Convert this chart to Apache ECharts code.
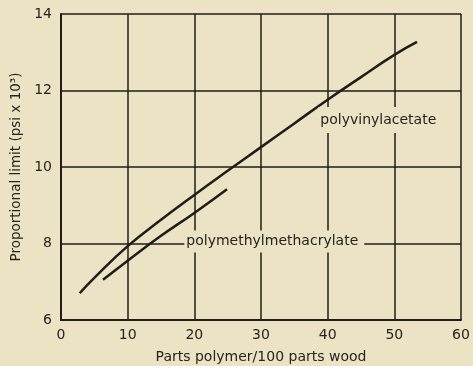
<!DOCTYPE html>
<html>
<head>
<meta charset="utf-8">
<script src="https://cdn.jsdelivr.net/npm/echarts@6/dist/echarts.min.js"></script>
<style>
  html, body { margin: 0; padding: 0; background: #ece3c4; }
  #main { width: 473px; height: 366px; }
</style>
</head>
<body>
<div id="main"></div>
<script>
  // polyvinylacetate curve [parts polymer, proportional limit]
  var pvaData = [[2.8, 6.7], [5, 7.1], [10, 7.93], [15, 8.62], [20, 9.27], [25, 9.9],
    [30, 10.52], [35, 11.14], [40, 11.76], [45, 12.35], [50, 12.93], [53.4, 13.27]];
  // polymethylmethacrylate curve
  var pmmaData = [[6.3, 7.05], [10, 7.55], [15, 8.2], [20, 8.8], [24.9, 9.42]];
  var xTicks = [0, 60, 10];
  var yTicks = [6, 14, 2];

  var bg = '#ece3c4';
  var ink = '#1f1d1a';
  var txt = '#26241f';
  var fam = 'DejaVu Sans, sans-serif';
  var myChart = echarts.init(document.getElementById('main'));

  var option = {
    backgroundColor: bg,
    animation: false,
    textStyle: { fontFamily: fam },
    grid: { left: 61, right: 12, top: 14, bottom: 46, outerBoundsMode: 'none', containLabel: false },
    xAxis: {
      type: 'value',
      min: xTicks[0], max: xTicks[1], interval: xTicks[2],
      name: 'Parts polymer/100 parts wood',
      nameLocation: 'middle', nameGap: 30,
      nameTextStyle: { color: txt, fontSize: 14, fontFamily: fam },
      axisLine: { show: true, lineStyle: { color: ink, width: 2 } },
      axisTick: { show: false },
      axisLabel: { color: txt, fontSize: 14, margin: 8, fontFamily: fam },
      splitLine: { show: true, lineStyle: { color: ink, width: 1.5 } }
    },
    yAxis: {
      type: 'value',
      min: yTicks[0], max: yTicks[1], interval: yTicks[2],
      name: 'Proportional limit (psi x 10³)',
      nameLocation: 'middle', nameGap: 35,
      nameTextStyle: { color: txt, fontSize: 13.5, fontFamily: fam },
      axisLine: { show: true, lineStyle: { color: ink, width: 2 } },
      axisTick: { show: false },
      axisLabel: { color: txt, fontSize: 14, margin: 9, fontFamily: fam },
      splitLine: { show: true, lineStyle: { color: ink, width: 1.5 } }
    },
    series: [
      {
        name: 'polyvinylacetate', type: 'line', data: pvaData, smooth: true,
        showSymbol: false, lineStyle: { color: ink, width: 2.5 }, z: 3
      },
      {
        name: 'polymethylmethacrylate', type: 'line', data: pmmaData, smooth: true,
        showSymbol: false, lineStyle: { color: ink, width: 2.5 }, z: 3
      }
    ]
  };
  myChart.setOption(option);

  // curve labels sit on a patch of background so the grid lines break behind them
  var p1 = myChart.convertToPixel({ gridIndex: 0 }, [38.6, 11.23]);
  var p2 = myChart.convertToPixel({ gridIndex: 0 }, [18.5, 8.05]);
  myChart.setOption({
    graphic: [
      {
        type: 'text', x: p1[0], y: p1[1], z: 10,
        style: {
          text: 'polyvinylacetate', fill: txt, font: '14px DejaVu Sans, sans-serif',
          verticalAlign: 'middle', backgroundColor: bg, padding: [6, 4, 6, 2]
        }
      },
      {
        type: 'text', x: p2[0], y: p2[1], z: 10,
        style: {
          text: 'polymethylmethacrylate', fill: txt, font: '14px DejaVu Sans, sans-serif',
          verticalAlign: 'middle', backgroundColor: bg, padding: [4, 6, 4, 2]
        }
      }
    ]
  });
</script>
</body>
</html>
